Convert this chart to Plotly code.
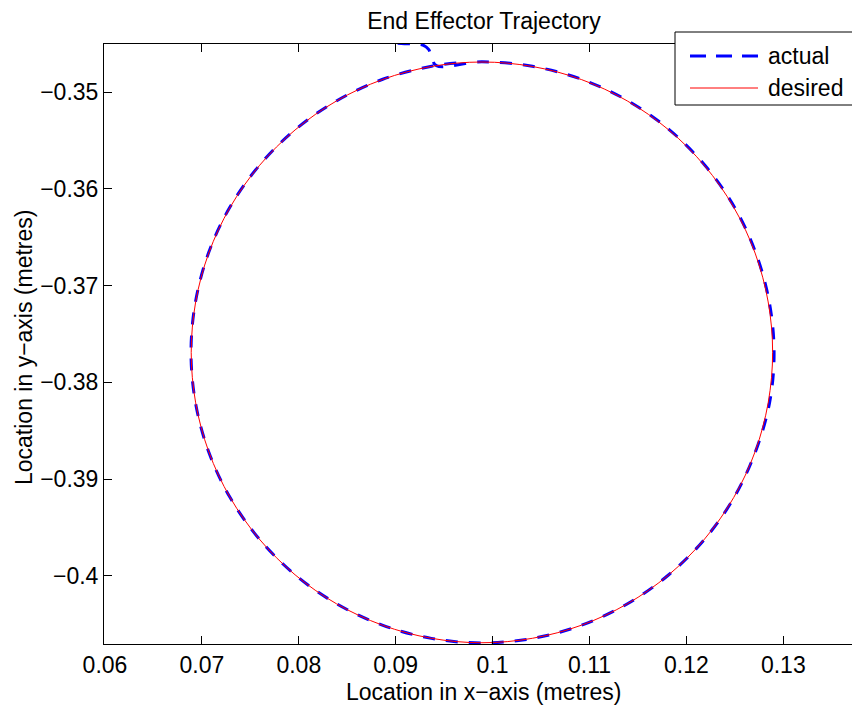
import plotly.graph_objects as go

# Desired trajectory (circle) points
desired_x = [0.12890, 0.12844, 0.12709, 0.12488, 0.12188, 0.11818, 0.11390, 0.10916, 0.10411,
             0.09890, 0.09369, 0.08864, 0.08390, 0.07962, 0.07592, 0.07292, 0.07071, 0.06936,
             0.06890, 0.06936, 0.07071, 0.07292, 0.07592, 0.07962, 0.08390, 0.08864, 0.09369,
             0.09890, 0.10411, 0.10916, 0.11390, 0.11818, 0.12188, 0.12488, 0.12709, 0.12844,
             0.12890]
desired_y = [-0.37690, -0.37169, -0.36664, -0.36190, -0.35762, -0.35392, -0.35092, -0.34871, -0.34736,
             -0.34690, -0.34736, -0.34871, -0.35092, -0.35392, -0.35762, -0.36190, -0.36664, -0.37169,
             -0.37690, -0.38211, -0.38716, -0.39190, -0.39618, -0.39988, -0.40288, -0.40509, -0.40644,
             -0.40690, -0.40644, -0.40509, -0.40288, -0.39988, -0.39618, -0.39190, -0.38716, -0.38211,
             -0.37690]

# Actual trajectory points
actual_x = [0.0902, 0.0918, 0.0928, 0.0934, 0.0937, 0.0942, 0.0989, 0.10411, 0.10916, 0.11392,
            0.11822, 0.12193, 0.12495, 0.12716, 0.12855, 0.12905, 0.12858, 0.12712, 0.12490,
            0.12188, 0.11815, 0.11388, 0.10914, 0.10410, 0.09890, 0.09368, 0.08862, 0.08388,
            0.07960, 0.07590, 0.07290, 0.07069, 0.06934, 0.06888, 0.06934, 0.07069, 0.07290,
            0.07592, 0.07962, 0.08392, 0.08866, 0.09371, 0.0963]
actual_y = [-0.34495, -0.34505, -0.34515, -0.3456, -0.3464, -0.34728, -0.34688, -0.34734, -0.34868,
            -0.35088, -0.35388, -0.35760, -0.36188, -0.36662, -0.37168, -0.37690, -0.38212, -0.38718,
            -0.39193, -0.39620, -0.39990, -0.40290, -0.40510, -0.40646, -0.40692, -0.40645, -0.40508,
            -0.40286, -0.39986, -0.39616, -0.39188, -0.38714, -0.38210, -0.37690, -0.37168, -0.36662,
            -0.36188, -0.35760, -0.35390, -0.35090, -0.34868, -0.34733, -0.3470]

x_ticks = [0.06, 0.07, 0.08, 0.09, 0.1, 0.11, 0.12, 0.13]
y_ticks = [-0.35, -0.36, -0.37, -0.38, -0.39, -0.4]
legend_labels = ["actual", "desired"]

FONT = "Liberation Sans, Arial, Helvetica, sans-serif"
FS = 23

fig = go.Figure()
fig.add_trace(go.Scatter(x=actual_x, y=actual_y, mode="lines", name="actual",
                         line=dict(color="#0000FF", width=3, dash="12px,11px", shape="spline"),
                         showlegend=False))
fig.add_trace(go.Scatter(x=desired_x, y=desired_y, mode="lines", name="desired",
                         line=dict(color="#FF0000", width=1, shape="spline"), showlegend=False))

L, R, T, B = 104, 0, 44, 67
W, H = 852, 711
pw, ph = W - L - R, H - T - B

def px(xp):
    return (xp - L) / pw

def py(yp):
    return (H - B - yp) / ph

shapes = [
    dict(type="rect", xref="paper", yref="paper", x0=px(675), x1=px(880), y0=py(105), y1=py(32),
         line=dict(color="black", width=1), fillcolor="white", layer="above"),
    dict(type="line", xref="paper", yref="paper", x0=px(690), x1=px(758), y0=py(56), y1=py(56),
         line=dict(color="#0000FF", width=3, dash="16px,10px"), layer="above"),
    dict(type="line", xref="paper", yref="paper", x0=px(690), x1=px(758), y0=py(88), y1=py(88),
         line=dict(color="#FF0000", width=1), layer="above"),
]
annotations = [
    dict(text=legend_labels[0], xref="paper", yref="paper", x=px(766), y=py(56), xanchor="left",
         yanchor="middle", showarrow=False, font=dict(size=FS, color="black", family=FONT)),
    dict(text=legend_labels[1], xref="paper", yref="paper", x=px(766), y=py(88), xanchor="left",
         yanchor="middle", showarrow=False, font=dict(size=FS, color="black", family=FONT)),
    dict(text="Location in x\u2212axis (metres)", xref="paper", yref="paper", x=px(483), y=py(692),
         xanchor="center", yanchor="middle", showarrow=False,
         font=dict(size=FS, color="black", family=FONT)),
    dict(text="Location in y\u2212axis (metres)", xref="paper", yref="paper", x=px(24), y=py(348),
         xanchor="center", yanchor="middle", showarrow=False, textangle=-90,
         font=dict(size=FS, color="black", family=FONT)),
]

fig.update_layout(
    width=W, height=H,
    margin=dict(l=L, r=R, t=T, b=B, autoexpand=False),
    paper_bgcolor="white", plot_bgcolor="white",
    font=dict(family=FONT, size=FS, color="black"),
    title=dict(text="End Effector Trajectory", x=px(484), xref="paper", xanchor="center",
               y=1 - 21 / H, yref="container", yanchor="middle",
               font=dict(size=FS, color="black", family=FONT)),
    shapes=shapes, annotations=annotations, showlegend=False,
    xaxis=dict(range=[0.0599, 0.13709], tickvals=x_ticks, ticktext=[f"{v:g}" for v in x_ticks],
               ticks="inside", ticklen=8, tickcolor="black", showline=True, linecolor="black",
               linewidth=1, mirror="ticks", showgrid=False, zeroline=False,
               tickfont=dict(size=FS, color="black", family=FONT)),
    yaxis=dict(range=[-0.40703, -0.34504], tickvals=y_ticks,
               ticktext=[f"{v:g}".replace("-", "\u2212") for v in y_ticks],
               ticks="inside", ticklen=8, tickcolor="black", showline=True, linecolor="black",
               linewidth=1, mirror=False, showgrid=False, zeroline=False,
               tickfont=dict(size=FS, color="black", family=FONT)),
)

fig.write_html("out.html", config={"displayModeBar": False},
               post_script="document.body.style.margin='0';document.body.style.overflow='hidden';")
